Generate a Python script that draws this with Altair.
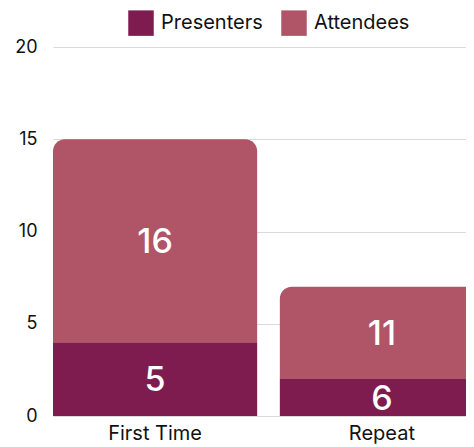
import altair as alt
import pandas as pd

categories = ["First Time", "Repeat"]
series = ["Presenters", "Attendees"]
presenters_values = [4, 2]
attendees_values = [11, 5]
presenters_labels = ["5", "6"]
attendees_labels = ["16", "11"]
colors = ["#7E1C50", "#B05468"]
y_ticks = [0, 5, 10, 15, 20]

rows = []
for i, c in enumerate(categories):
    rows.append({"category": c, "series": "Presenters", "value": presenters_values[i],
                 "label": presenters_labels[i], "order": 0})
    rows.append({"category": c, "series": "Attendees", "value": attendees_values[i],
                 "label": attendees_labels[i], "order": 1})
df = pd.DataFrame(rows)

FONT = "Inter"

base = alt.Chart(df).transform_stack(
    stack="value", groupby=["category"], as_=["y0", "y1"],
    sort=[alt.SortField("order", order="ascending")]
).transform_calculate(mid="(datum.y0 + datum.y1) / 2")

xscale = alt.Scale(range=[0, 431], paddingInner=0.1, paddingOuter=0)
xenc = alt.X("category:N", sort=categories, scale=xscale,
             axis=alt.Axis(title=None, labelAngle=0, domain=False, ticks=False,
                           labelPadding=7, labelFontSize=20, labelFont=FONT,
                           labelColor="#111", grid=False))
yscale = alt.Scale(domain=[0, 20])
yaxis = alt.Axis(title=None, values=y_ticks, domain=False, ticks=False,
                 labelPadding=16, labelFontSize=18, labelFont=FONT,
                 labelColor="#111", gridColor="#d9d9d9", gridWidth=1)
yenc = alt.Y("y0:Q", scale=yscale, axis=yaxis)
color = alt.Color("series:N", sort=series,
                  scale=alt.Scale(domain=series, range=colors),
                  legend=alt.Legend(title=None, orient="none", direction="horizontal",
                                    legendX=75, legendY=-37,
                                    symbolType="square", symbolSize=650,
                                    symbolStrokeWidth=0, labelFontSize=20,
                                    labelFont=FONT, labelColor="#111",
                                    labelOffset=7, columnPadding=18))

bars_p = base.transform_filter("datum.series == 'Presenters'").mark_bar(clip=True).encode(
    x=xenc, y=yenc, y2="y1:Q", color=color)
bars_a = base.transform_filter("datum.series == 'Attendees'").mark_bar(
    clip=True, cornerRadiusTopLeft=12, cornerRadiusTopRight=12).encode(
    x=xenc, y=yenc, y2="y1:Q", color=color)

text = base.mark_text(color="white", fontSize=34, font=FONT, fontWeight=500,
                      baseline="middle", dy=2).encode(
    x=xenc,
    y=alt.Y("mid:Q", scale=yscale, axis=yaxis),
    text="label:N")

chart = alt.layer(bars_p, bars_a, text).properties(
    width=413, height=369,
    autosize=alt.AutoSizeParams(type="none"),
    padding={"left": 45, "top": 39, "right": 0, "bottom": 28}
).configure_view(stroke=None)

chart.save("out.html", embed_options={"renderer": "svg", "actions": False})
